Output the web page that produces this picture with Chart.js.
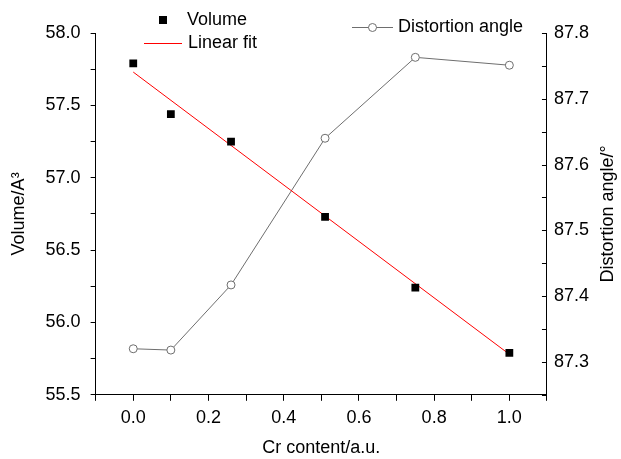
<!DOCTYPE html>
<html>
<head>
<meta charset="utf-8">
<script src="https://cdn.jsdelivr.net/npm/chart.js@4"></script>
<style>
  html, body { margin: 0; padding: 0; background: #fff; }
  #wrap { width: 621px; height: 459px; }
</style>
</head>
<body>
<div id="wrap"><canvas id="myChart"></canvas></div>
<script>
// Cr content (x), cell volume (left axis), distortion angle (right axis)
const crContent = [0, 0.1, 0.26, 0.51, 0.75, 1.0];
const volume = [57.79, 57.44, 57.25, 56.73, 56.24, 55.79];
const fitX = [0, 1.0];
const fitVolume = [57.73, 55.78];
const distortionAngle = [87.32, 87.318, 87.417, 87.64, 87.763, 87.751];

const FONT = "'Liberation Sans', Arial, sans-serif";
const GRAY = 'rgb(110,110,110)';

const toXY = (xs, ys) => xs.map((x, i) => ({ x, y: ys[i] }));

// right axis: ticks point inward and the title reads bottom-to-top, so draw both here
const rightAxisExtras = {
  id: 'rightAxisExtras',
  afterDraw(chart) {
    const s = chart.scales.y2;
    const ctx = chart.ctx;
    ctx.save();
    ctx.strokeStyle = '#000';
    ctx.lineWidth = 1;
    s.ticks.forEach(t => {
      const y = Math.round(s.getPixelForValue(t.value)) + 0.5;
      ctx.beginPath();
      ctx.moveTo(s.left, y);
      ctx.lineTo(s.left - 5, y);
      ctx.stroke();
    });
    const a = chart.chartArea;
    ctx.translate(608, (a.top + a.bottom) / 2);
    ctx.rotate(-Math.PI / 2);
    ctx.font = '18px ' + FONT;
    ctx.fillStyle = '#000';
    ctx.textAlign = 'center';
    ctx.textBaseline = 'middle';
    ctx.fillText('Distortion angle/°', 0, 0);
    ctx.restore();
  }
};

// legend entries placed like the original figure
const customLegend = {
  id: 'customLegend',
  afterDraw(chart) {
    const ctx = chart.ctx;
    ctx.save();
    ctx.font = '18px ' + FONT;
    ctx.fillStyle = '#000';
    ctx.textBaseline = 'middle';

    ctx.fillRect(159, 16, 8, 8);
    ctx.fillText('Volume', 187, 20);

    ctx.strokeStyle = 'rgb(255,0,0)';
    ctx.lineWidth = 1;
    ctx.beginPath();
    ctx.moveTo(144, 43.5);
    ctx.lineTo(182, 43.5);
    ctx.stroke();
    ctx.fillText('Linear fit', 188, 43);

    ctx.strokeStyle = GRAY;
    ctx.beginPath();
    ctx.moveTo(352, 27.5);
    ctx.lineTo(393, 27.5);
    ctx.stroke();
    ctx.beginPath();
    ctx.arc(372.5, 27.5, 4, 0, Math.PI * 2);
    ctx.fillStyle = '#fff';
    ctx.fill();
    ctx.stroke();
    ctx.fillStyle = '#000';
    ctx.fillText('Distortion angle', 398, 27);
    ctx.restore();
  }
};

const near = (v, step) => Math.abs(v / step - Math.round(v / step)) < 1e-6;

new Chart(document.getElementById('myChart'), {
  type: 'scatter',
  data: {
    datasets: [
      {
        label: 'Volume',
        data: toXY(crContent, volume),
        yAxisID: 'y',
        pointStyle: 'rect',
        pointRadius: 5.5,
        backgroundColor: '#000',
        borderColor: '#000',
        borderWidth: 0,
        showLine: false,
        order: 1
      },
      {
        label: 'Linear fit',
        data: toXY(fitX, fitVolume),
        yAxisID: 'y',
        showLine: true,
        borderColor: 'rgb(255,0,0)',
        borderWidth: 1,
        pointRadius: 0,
        order: 2
      },
      {
        label: 'Distortion angle',
        data: toXY(crContent, distortionAngle),
        yAxisID: 'y2',
        showLine: true,
        borderColor: GRAY,
        borderWidth: 1,
        pointRadius: 4,
        pointBackgroundColor: '#fff',
        pointBorderColor: GRAY,
        pointBorderWidth: 1,
        order: 3
      }
    ]
  },
  plugins: [rightAxisExtras, customLegend],
  options: {
    responsive: true,
    maintainAspectRatio: false,
    animation: false,
    layout: { padding: { left: 8, right: 25, top: 33, bottom: 0 } },
    plugins: { legend: { display: false }, tooltip: { enabled: false } },
    scales: {
      x: {
        type: 'linear',
        min: -0.1,
        max: 1.1,
        border: { color: '#000', width: 1 },
        grid: { drawOnChartArea: false, drawTicks: true, tickLength: 6, color: '#000' },
        ticks: {
          stepSize: 0.1,
          padding: 6,
          color: '#000',
          maxRotation: 0,
          autoSkip: false,
          font: { family: FONT, size: 18 },
          callback: v => (v >= -1e-6 && v <= 1 + 1e-6 && near(v, 0.2)) ? v.toFixed(1) : ''
        },
        title: { display: true, text: 'Cr content/a.u.', color: '#000', padding: { top: 3, bottom: 0 }, font: { family: FONT, size: 18 } }
      },
      y: {
        type: 'linear',
        position: 'left',
        min: 55.5,
        max: 58.0,
        border: { color: '#000', width: 1 },
        grid: { drawOnChartArea: false, drawTicks: true, tickLength: 5, color: '#000' },
        ticks: {
          stepSize: 0.25,
          padding: 10,
          color: '#000',
          autoSkip: false,
          font: { family: FONT, size: 18 },
          callback: v => near(v, 0.5) ? v.toFixed(1) : ''
        },
        title: { display: true, text: 'Volume/A³', color: '#000', padding: { top: 0, bottom: 6 }, font: { family: FONT, size: 18 } }
      },
      y2: {
        type: 'linear',
        position: 'right',
        min: 87.25,
        max: 87.8,
        border: { color: '#000', width: 1 },
        grid: { display: false, drawTicks: false },
        ticks: {
          stepSize: 0.05,
          padding: 7,
          color: '#000',
          autoSkip: false,
          font: { family: FONT, size: 18 },
          callback: v => (v > 87.27 && near(v, 0.1)) ? v.toFixed(1) : ''
        },
        title: { display: false }
      }
    }
  }
});
</script>
</body>
</html>
